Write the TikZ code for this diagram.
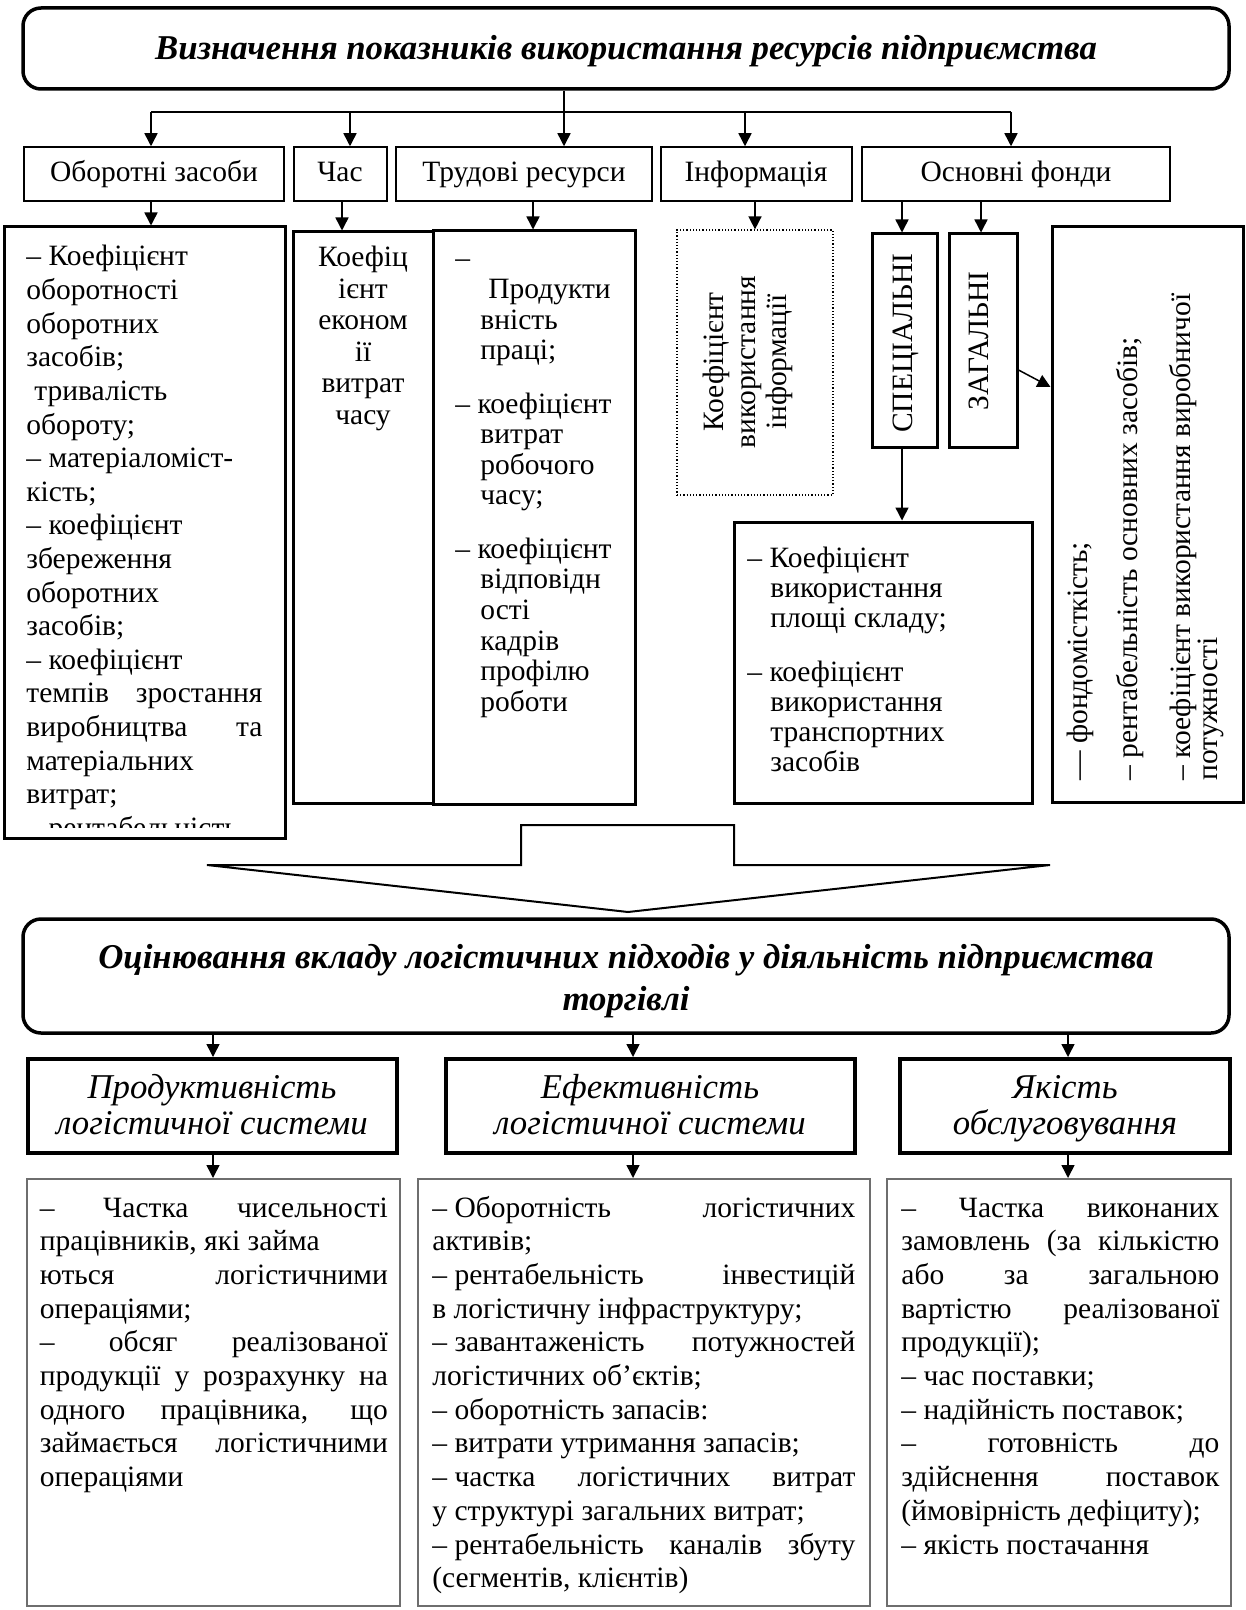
\documentclass[tikz,border=0pt]{standalone}
\usepackage{fontspec}
\setmainfont{Liberation Serif}
\usetikzlibrary{arrows.meta,fit}
\definecolor{frameg}{RGB}{110,110,110}
\newlength\jw
\newcommand\J[1]{\hbox to \jw{#1}}
\newcommand\dsh{–\kern0.25em}
% #1 x, #2 first baseline, #3 step, #4 name prefix, #5 list of lines
\newcommand\txtlines[5]{\foreach \lineT [count=\i from 0] in {#5} {\node[tx,anchor=base west] (#4\i) at (#1,{#2+\i*#3}) {\lineT};}}
\begin{document}
\begin{tikzpicture}[x=0.5pt,y=-0.5pt,
  tx/.style={font=\fontsize{14.75pt}{15pt}\selectfont, inner sep=0pt},
  ttl/.style={font=\fontsize{17.4pt}{18pt}\selectfont\bfseries\itshape, inner sep=0pt},
  itf/.style={font=\fontsize{17.4pt}{18pt}\selectfont\itshape, inner sep=0pt},
  bx/.style={draw, line width=1.5pt, inner sep=0pt},
  thinbx/.style={draw, line width=0.75pt, inner sep=0pt},
  rbx/.style={draw, line width=1.75pt, rounded corners=9pt, inner sep=0pt},
  fbx/.style={draw, line width=2pt, inner sep=0pt},
  gbx/.style={draw=frameg, line width=1pt, inner sep=0pt},
  arr/.style={-{Triangle[length=6.5pt,width=6.5pt]}, line width=0.75pt},
  lin/.style={line width=0.75pt}]
\useasboundingbox (0,0) rectangle (1246,1610);
\fill[white] (0,0) rectangle (1246,1610);

% ---------- top title
\node[rbx, fit={(23,8) (1229,89)}] (top) {};
\node[ttl, anchor=base] (toptx) at (626,60) {Визначення показників використання ресурсів підприємства};

% ---------- level 2
\node[thinbx, fit={(24,147) (284,201)}] (oz) {};
\node[thinbx, fit={(294,147) (387,201)}] (chas) {};
\node[thinbx, fit={(396,147) (652,201)}] (tr) {};
\node[thinbx, fit={(661,147) (852,201)}] (inf) {};
\node[thinbx, fit={(862,147) (1170,201)}] (of) {};
\node[tx, anchor=base] (oztx) at (154,182) {Оборотні засоби};
\node[tx, anchor=base] (chtx) at (340,182) {Час};
\node[tx, anchor=base] (trtx) at (524,182) {Трудові ресурси};
\node[tx, anchor=base] (intx) at (756,182) {Інформація};
\node[tx, anchor=base] (oftx) at (1016,182) {Основні фонди};

\coordinate (b1) at (151,112);
\coordinate (b2) at (350,112);
\coordinate (b3) at (564,112);
\coordinate (b4) at (745,112);
\coordinate (b5) at (1011,112);
\draw[lin] (top.south -| b3) -- (b3);
\draw[lin] (b1) -- (b5);
\foreach \b/\n in {b1/oz,b2/chas,b3/tr,b4/inf,b5/of} \draw[arr] (\b) -- (\b |- \n.north);

% ---------- level 3
\node[bx, fit={(4,227) (285,838)}] (ozc) {};
\node[bx, fit={(293,232) (433,803)}] (chc) {};
\node[bx, fit={(433,231) (635,804)}] (trc) {};
\node[draw, densely dotted, line width=0.6pt, inner sep=0pt, fit={(677,230) (833,495)}] (infc) {};
\node[bx, fit={(872,234) (937,447)}] (spec) {};
\node[bx, fit={(949,234) (1017,447)}] (zag) {};
\node[bx, fit={(734,522) (1032,803)}] (specc) {};
\node[bx, fit={(1052,227) (1243,802)}] (ofc) {};

\coordinate (cOZ) at (151,0);
\coordinate (cCH) at (342,0);
\coordinate (cTR) at (533,0);
\coordinate (cIN) at (755,0);
\coordinate (cSP) at (902,0);
\coordinate (cZG) at (981,0);
\draw[arr] (oz.south -| cOZ) -- (ozc.north -| cOZ);
\draw[arr] (chas.south -| cCH) -- (chc.north -| cCH);
\draw[arr] (tr.south -| cTR) -- (trc.north -| cTR);
\draw[arr] (inf.south -| cIN) -- (infc.north -| cIN);
\draw[arr] (of.south -| cSP) -- (spec.north -| cSP);
\draw[arr] (of.south -| cZG) -- (zag.north -| cZG);
\draw[arr] (spec.south -| cSP) -- (specc.north -| cSP);
\coordinate (zA) at (0,370);
\coordinate (zB) at (0,387);
\draw[arr] (zag.east |- zA) -- (ofc.west |- zB);

% OZ text (clipped)
\begin{scope}
\clip (4,227) rectangle (285,827);
\setlength\jw{118pt}
\txtlines{26}{266}{33.6}{ozl}{{– Коефіцієнт},{оборотності},{оборотних},{засобів;},{\hspace*{4pt}тривалість},{обороту;},{– матеріаломіст-},{кість;},{– коефіцієнт},{збереження},{оборотних},{засобів;},{– коефіцієнт},{\J{темпів зростання}},{\J{виробництва та}},{матеріальних},{витрат;},{– рентабельність}}
\end{scope}

% time
\foreach \w [count=\i from 0] in {Коефіц,ієнт,економ,ії,витрат,часу}
  \node[tx, anchor=base] (chl\i) at (363,{267+\i*31.4}) {\w};

% labour
\node[tx, anchor=base west] (trd1) at (455,268) {–};
\txtlines{488}{298.5}{30.5}{tra}{{Продукти}}
\txtlines{480}{329}{30.5}{trb}{{вність},{праці;}}
\node[tx, anchor=base west] (trd2) at (455,413) {– коефіцієнт};
\txtlines{480}{443.5}{30.6}{trc}{{витрат},{робочого},{часу;}}
\node[tx, anchor=base west] (trd3) at (455,558) {– коефіцієнт};
\txtlines{480}{588.5}{30.8}{trd}{{відповідн},{ості},{кадрів},{профілю},{роботи}}

% information (rotated)
\node[tx, rotate=90, anchor=base] (inl1) at (723,362) {Коефіцієнт};
\node[tx, rotate=90, anchor=base] (inl2) at (755,362) {використання};
\node[tx, rotate=90, anchor=base] (inl3) at (786,362) {інформації};

% special / general
\node[tx, rotate=90, anchor=base] (sptx) at (912,343) {СПЕЦІАЛЬНІ};
\node[tx, rotate=90, anchor=base] (zgtx) at (988,341) {ЗАГАЛЬНІ};

% special content
\node[tx, anchor=base west] (sp1) at (747,567) {– Коефіцієнт};
\txtlines{770}{597}{30}{spa}{{використання},{площі складу;}}
\node[tx, anchor=base west] (sp2) at (747,681) {– коефіцієнт};
\txtlines{770}{711}{30}{spb}{{використання},{транспортних},{засобів}}

% general content (rotated)
\node[tx, rotate=90, anchor=base west] (gl1) at (1087,781) {— фондомісткість;};
\node[tx, rotate=90, anchor=base west] (gl2) at (1137,781) {– рентабельність основних засобів;};
\node[tx, rotate=90, anchor=base west] (gl3) at (1190,781) {– коефіцієнт використання виробничої};
\node[tx, rotate=90, anchor=base west] (gl4) at (1217,781) {потужності};

% ---------- big block arrow
\draw[line width=1pt, fill=white] (521,825) -- (734,825) -- (734,865) -- (1050,865) -- (628,912) -- (207,865) -- (521,865) -- cycle;

% ---------- second title
\node[rbx, fit={(23,919) (1229,1033)}] (mid) {};
\node[ttl, anchor=base] (midt1) at (626,968) {Оцінювання вкладу логістичних підходів у діяльність підприємства};
\node[ttl, anchor=base] (midt2) at (626,1010) {торгівлі};

% ---------- level 4
\node[fbx, fit={(28,1059) (397,1153)}] (p1) {};
\node[fbx, fit={(446,1059) (855,1153)}] (p2) {};
\node[fbx, fit={(900,1059) (1230,1153)}] (p3) {};
\node[itf, anchor=base] (p1a) at (212,1098) {Продуктивність};
\node[itf, anchor=base] (p1b) at (212,1134) {логістичної системи};
\node[itf, anchor=base] (p2a) at (650,1098) {Ефективність};
\node[itf, anchor=base] (p2b) at (650,1134) {логістичної системи};
\node[itf, anchor=base] (p3a) at (1065,1098) {Якість};
\node[itf, anchor=base] (p3b) at (1065,1134) {обслуговування};

\coordinate (d1) at (213,0);
\coordinate (d2) at (633,0);
\coordinate (d3) at (1068,0);
\draw[arr] (mid.south -| d1) -- (p1.north -| d1);
\draw[arr] (mid.south -| d2) -- (p2.north -| d2);
\draw[arr] (mid.south -| d3) -- (p3.north -| d3);

% ---------- level 5
\node[gbx, fit={(27,1179) (400,1606)}] (q1) {};
\node[gbx, fit={(418,1179) (870,1606)}] (q2) {};
\node[gbx, fit={(887,1179) (1231,1606)}] (q3) {};
\draw[arr] (p1.south -| d1) -- (q1.north -| d1);
\draw[arr] (p2.south -| d2) -- (q2.north -| d2);
\draw[arr] (p3.south -| d3) -- (q3.north -| d3);

\setlength\jw{174pt}
\txtlines{39.5}{1217}{33.7}{ql}{{\J{– Частка чисельності}},{працівників, які займа},{\J{ються логістичними}},{операціями;},{\J{– обсяг реалізованої}},{\J{продукції у розрахунку на}},{\J{одного працівника, що}},{\J{займається логістичними}},{операціями}}
\setlength\jw{211.5pt}
\txtlines{432}{1217}{33.7}{qm}{{\J{\dsh Оборотність логістичних}},{активів;},{\J{\dsh рентабельність інвестицій}},{в логістичну інфраструктуру;},{\J{\dsh завантаженість потужностей}},{логістичних об’єктів;},{– оборотність запасів:},{– витрати утримання запасів;},{\J{\dsh частка логістичних витрат}},{у структурі загальних витрат;},{\J{\dsh рентабельність каналів збуту}},{(сегментів, клієнтів)}}
\setlength\jw{159pt}
\txtlines{901}{1217}{33.7}{qr}{{\J{– Частка виконаних}},{\J{замовлень (за кількістю}},{\J{або за загальною}},{\J{вартістю реалізованої}},{продукції);},{– час поставки;},{– надійність поставок;},{\J{– готовність до}},{\J{здійснення поставок}},{(ймовірність дефіциту);},{– якість постачання}}
\end{tikzpicture}
\end{document}
